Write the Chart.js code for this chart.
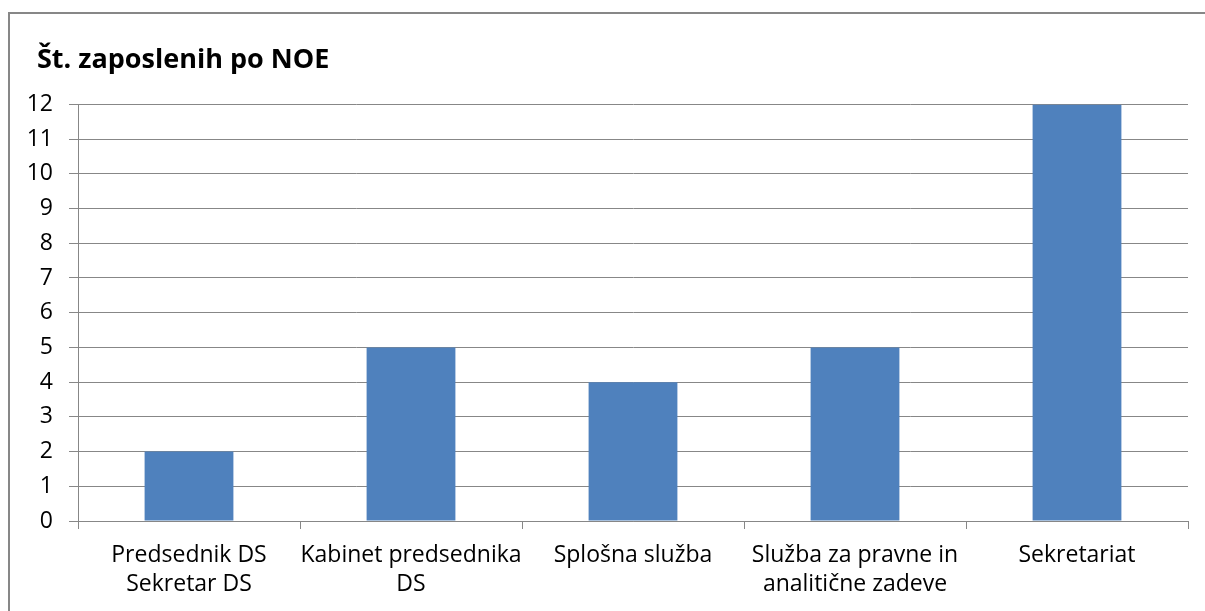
<!DOCTYPE html>
<html>
<head>
<meta charset="utf-8">
<title>Št. zaposlenih po NOE</title>
<script src="https://cdn.jsdelivr.net/npm/chart.js@4/dist/chart.umd.min.js"></script>
<style>
  html, body { margin: 0; padding: 0; background: #fff; overflow: hidden; }
  #wrap { position: relative; width: 1205px; height: 611px; }
  #frame {
    position: absolute; left: 8px; top: 12px; width: 1400px; height: 800px;
    border-top: 2px solid #878787; border-left: 2px solid #878787;
    pointer-events: none;
  }
</style>
</head>
<body>
<div id="wrap">
  <canvas id="chart" width="1205" height="611"></canvas>
  <div id="frame"></div>
</div>
<script>
// ── data ──
const categories = [
  ['Predsednik DS', 'Sekretar DS'],
  ['Kabinet predsednika', 'DS'],
  'Splošna služba',
  ['Služba za pravne in', 'analitične zadeve'],
  'Sekretariat'
];
const employees = [2, 5, 4, 5, 12];
const yTicks = [0, 1, 2, 3, 4, 5, 6, 7, 8, 9, 10, 11, 12];

const GRID = '#878787';
const FONT = '"Open Sans", Lato, sans-serif';

// shift the title so it starts inside the frame, not at the canvas edge
const titleOffset = {
  id: 'titleOffset',
  afterLayout(chart) {
    if (chart.titleBlock) chart.titleBlock.left = 37;
  }
};

const ctx = document.getElementById('chart').getContext('2d');
new Chart(ctx, {
  type: 'bar',
  data: {
    labels: categories,
    datasets: [{
      label: 'Št. zaposlenih',
      data: employees,
      backgroundColor: '#4F81BD',
      borderWidth: 0,
      barPercentage: 0.4,
      categoryPercentage: 1
    }]
  },
  plugins: [titleOffset],
  options: {
    responsive: false,
    animation: false,
    layout: { padding: { left: 0, right: 17, top: 0, bottom: 0 } },
    plugins: {
      legend: { display: false },
      tooltip: { enabled: false },
      title: {
        display: true,
        text: 'Št. zaposlenih po NOE',
        align: 'start',
        color: '#000',
        font: { family: FONT, size: 27, weight: 'bold', lineHeight: 1.2 },
        padding: { top: 44, bottom: 28 }
      }
    },
    scales: {
      x: {
        afterFit: s => { s.height = 90; },
        grid: { offset: true, drawOnChartArea: false, drawTicks: true, tickLength: 8, color: GRID },
        border: { color: GRID, width: 1 },
        ticks: {
          color: '#000',
          padding: 12,
          maxRotation: 0,
          autoSkip: false,
          font: { family: FONT, size: 23, lineHeight: 1.26 }
        }
      },
      y: {
        min: yTicks[0],
        max: yTicks[yTicks.length - 1],
        afterFit: s => { s.width = 78; },
        afterBuildTicks: s => { s.ticks = yTicks.map(v => ({ value: v })); },
        grid: { color: GRID, tickLength: 9 },
        border: { color: GRID, width: 1 },
        ticks: {
          color: '#000',
          padding: 16,
          font: { family: FONT, size: 23 }
        }
      }
    }
  }
});
</script>
</body>
</html>
